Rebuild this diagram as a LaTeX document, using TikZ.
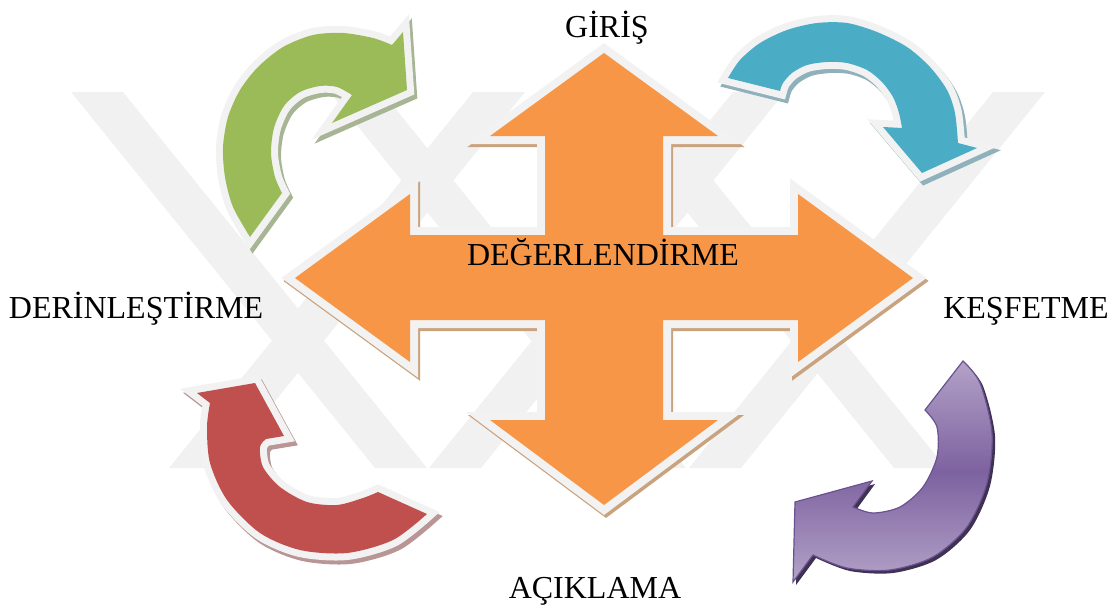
\documentclass[tikz,border=0pt]{standalone}
\usepackage{fontspec}
\setmainfont{Liberation Serif}
\definecolor{markcol}{HTML}{F1F1F1}
\definecolor{rimcol}{HTML}{F2F2F2}
\definecolor{crossfill}{HTML}{F79646}
\definecolor{crossshade}{HTML}{C9A27E}
\definecolor{greenfill}{HTML}{9BBB59}
\definecolor{greenshade}{HTML}{A7B594}
\definecolor{bluefill}{HTML}{4BACC6}
\definecolor{blueshade}{HTML}{8FB1BB}
\definecolor{redfill}{HTML}{C0504D}
\definecolor{redshade}{HTML}{B99595}
\definecolor{purplemid}{HTML}{7D62A0}
\definecolor{purplelight}{HTML}{B3A2C7}
\definecolor{purpleline}{HTML}{6A5290}
\definecolor{purpleshade}{HTML}{3F3151}
\tikzset{
  phase/.style={font=\fontsize{32}{38}\selectfont, inner sep=0pt, anchor=base},
  rimmed/.style n args={3}{
    preaction={fill=#1, draw=#1, line width=#2, line join=miter, transform canvas={shift={#3}}},
    preaction={draw=rimcol, line width=#2, line join=miter}},
}
\begin{document}
\begin{tikzpicture}[x=1pt, y=-1pt]
    \useasboundingbox (0,0) rectangle (1114,610);
    \begin{scope}
        \clip (71,92) rectangle (1045,468);
        \fill[markcol] (71,92) -- (123,92) -- (427,468) -- (375,468) -- cycle;
        \fill[markcol] (330,92) -- (382,92) -- (686,468) -- (634,468) -- cycle;
        \fill[markcol] (590,92) -- (642,92) -- (946,468) -- (894,468) -- cycle;
        \fill[markcol] (1045,92) -- (993,92) -- (689,468) -- (741,468) -- cycle;
        \fill[markcol] (785,92) -- (733,92) -- (429,468) -- (481,468) -- cycle;
        \fill[markcol] (525,92) -- (473,92) -- (169,468) -- (221,468) -- cycle;
    \end{scope}
    \fill[crossfill, rimmed={crossshade}{16pt}{(2,3)}]
        (604,53) -- (718,136) -- (663,136) -- (663,235) -- (798,235) -- (798,194)
        -- (913,278) -- (798,362) -- (798,320) -- (663,320) -- (663,420) -- (718,420)
        -- (604,505) -- (490,420) -- (545,420) -- (545,320) -- (410,320) -- (410,362)
        -- (295,278) -- (410,194) -- (410,235) -- (545,235) -- (545,136) -- (490,136) -- cycle;
    \fill[greenfill, rimmed={greenshade}{14pt}{(3,4)}]
        plot[smooth] coordinates {(250,237) (233,207) (225,177) (223,147) (228,117) (240,90)
            (258,67) (283,47) (313,35) (343,33) (373,38) (392,45)}
        -- (403,32) -- (407,90) -- (332,123) -- (352,95)
        -- plot[smooth] coordinates {(352,95) (337,87) (320,86) (300,92) (284,106) (274,128)
            (271,153) (275,177) (282,193)} -- cycle;
    \fill[bluefill, rimmed={blueshade}{14pt}{(3,4)}]
        plot[smooth] coordinates {(728,78) (740,60) (760,43) (787,30) (817,23) (847,23)
            (877,32) (907,47) (930,67) (947,90) (955,113) (958,143)}
        -- (977,148) -- (922,173) -- (883,127) -- (902,128)
        -- plot[smooth] coordinates {(902,128) (899,113) (893,97) (882,82) (867,70) (847,63)
            (827,62) (807,65) (792,73) (783,83) (780,91)} -- cycle;
    \fill[redfill, rimmed={redshade}{14pt}{(3,4)}]
        plot[smooth] coordinates {(427,514) (393,540) (347,553) (300,550) (260,533) (227,500)
            (210,463) (207,427) (210,403)}
        -- (197,393) -- (255,383) -- (284,436) -- (266,439)
        -- plot[smooth] coordinates {(266,439) (260,447) (263,467) (280,487) (307,502) (337,505)
            (363,498) (378,492)} -- cycle;
    \shade[top color=purplelight, bottom color=purplelight, middle color=purplemid,
           draw=purpleline, line width=1.2pt,
           preaction={fill=purpleshade, transform canvas={shift={(3,3)}}}]
        plot[smooth] coordinates {(963,361) (980,383) (992,433) (987,483) (967,527) (933,557)
            (890,570) (847,568) (813,555)}
        -- (793,582) -- (795,502) -- (872,481) -- (853,507)
        -- plot[smooth] coordinates {(853,507) (873,513) (900,507) (923,487) (937,457) (937,427)
            (925,410)} -- cycle;
    \node[phase] (giris) at (607,38) {GİRİŞ};
    \node[phase] (kesfetme) at (1026,318) {KEŞFETME};
    \node[phase] (aciklama) at (595,598) {AÇIKLAMA};
    \node[phase] (derinlestirme) at (136,318) {DERİNLEŞTİRME};
    \node[phase] (degerlendirme) at (603,265) {DEĞERLENDİRME};
\end{tikzpicture}
\end{document}
